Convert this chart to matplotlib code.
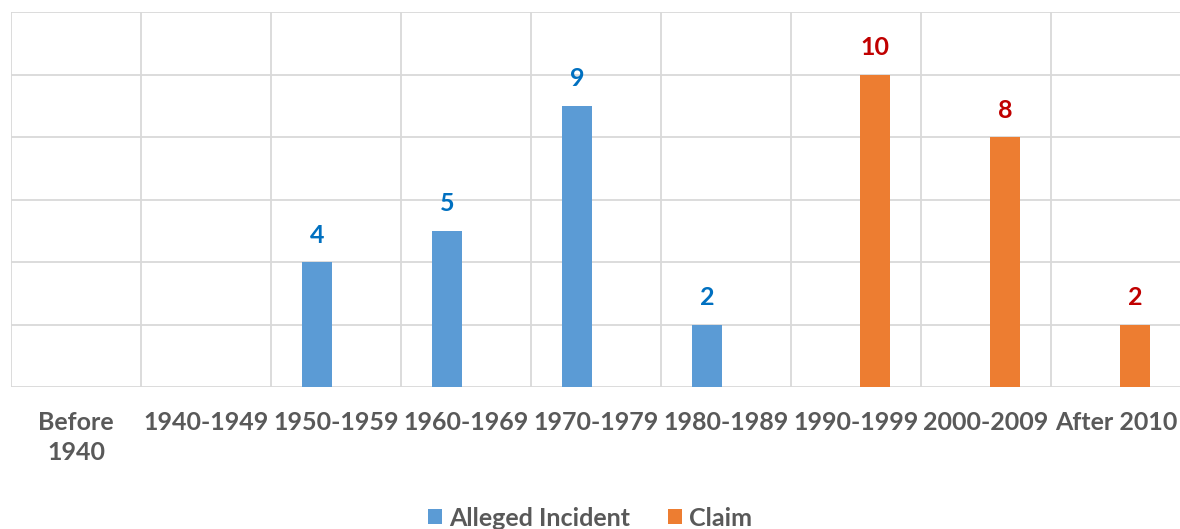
import matplotlib
matplotlib.use("Agg")
import matplotlib.pyplot as plt
import numpy as np

categories = ["Before\n1940", "1940-1949", "1950-1959", "1960-1969", "1970-1979",
              "1980-1989", "1990-1999", "2000-2009", "After 2010"]
alleged = [0, 0, 4, 5, 9, 2, 0, 0, 0]
claim = [0, 0, 0, 0, 0, 0, 10, 8, 2]
series_names = ["Alleged Incident", "Claim"]

plt.rcParams['font.family'] = ['Lato', 'DejaVu Sans']

W, H = 1180, 529
fig = plt.figure(figsize=(W / 100, H / 100), dpi=100)
left, right, top, bottom = 11, 1181, 12, 387
ax = fig.add_axes([left / W, (H - bottom) / H, (right - left) / W, (bottom - top) / H])

x = np.arange(len(categories))
bw = 0.23
off = 0.145
blue = "#5B9BD5"
orange = "#ED7D31"
b1 = ax.bar(x - off, alleged, bw, color=blue, label=series_names[0], zorder=3)
b2 = ax.bar(x + off, claim, bw, color=orange, label=series_names[1], zorder=3)

FS = 18
for bars, vals, col in ((b1, alleged, "#0070C0"), (b2, claim, "#C00000")):
    for rect, v in zip(bars, vals):
        if v:
            ax.annotate(str(v), (rect.get_x() + rect.get_width() / 2, v), xytext=(0, 11),
                        textcoords="offset points", ha="center", va="bottom",
                        fontsize=FS, fontweight="bold", color=col)

ax.set_xlim(-0.5, len(categories) - 0.5)
ax.set_ylim(0, 12)
ax.set_yticks(np.arange(0, 13, 2))
ax.set_yticklabels([])
ax.tick_params(axis="y", length=0)
ax.set_xticks(x)
ax.set_xticklabels(categories, fontsize=FS, fontweight="bold", color="#595959",
                   linespacing=1.4, va="top")
ax.set_xticks(np.arange(-0.5, len(categories), 1), minor=True)
ax.tick_params(axis="x", which="both", length=0, pad=17)
ax.grid(True, axis="y", color="#D9D9D9", linewidth=1.3, zorder=0)
ax.grid(True, axis="x", which="minor", color="#D9D9D9", linewidth=1.3, zorder=0)
ax.grid(False, axis="x", which="major")
for s in ax.spines.values():
    s.set_visible(False)

leg = fig.legend(handles=[b1, b2], labels=series_names, loc="center",
                 bbox_to_anchor=(0.5, (H - 518) / H), ncol=2, frameon=False,
                 prop={"size": FS, "weight": "bold"}, handlelength=0.55, handleheight=0.55,
                 handletextpad=0.3, columnspacing=1.5, borderpad=0)
for t in leg.get_texts():
    t.set_color("#595959")

fig.savefig("out.png", dpi=100)
